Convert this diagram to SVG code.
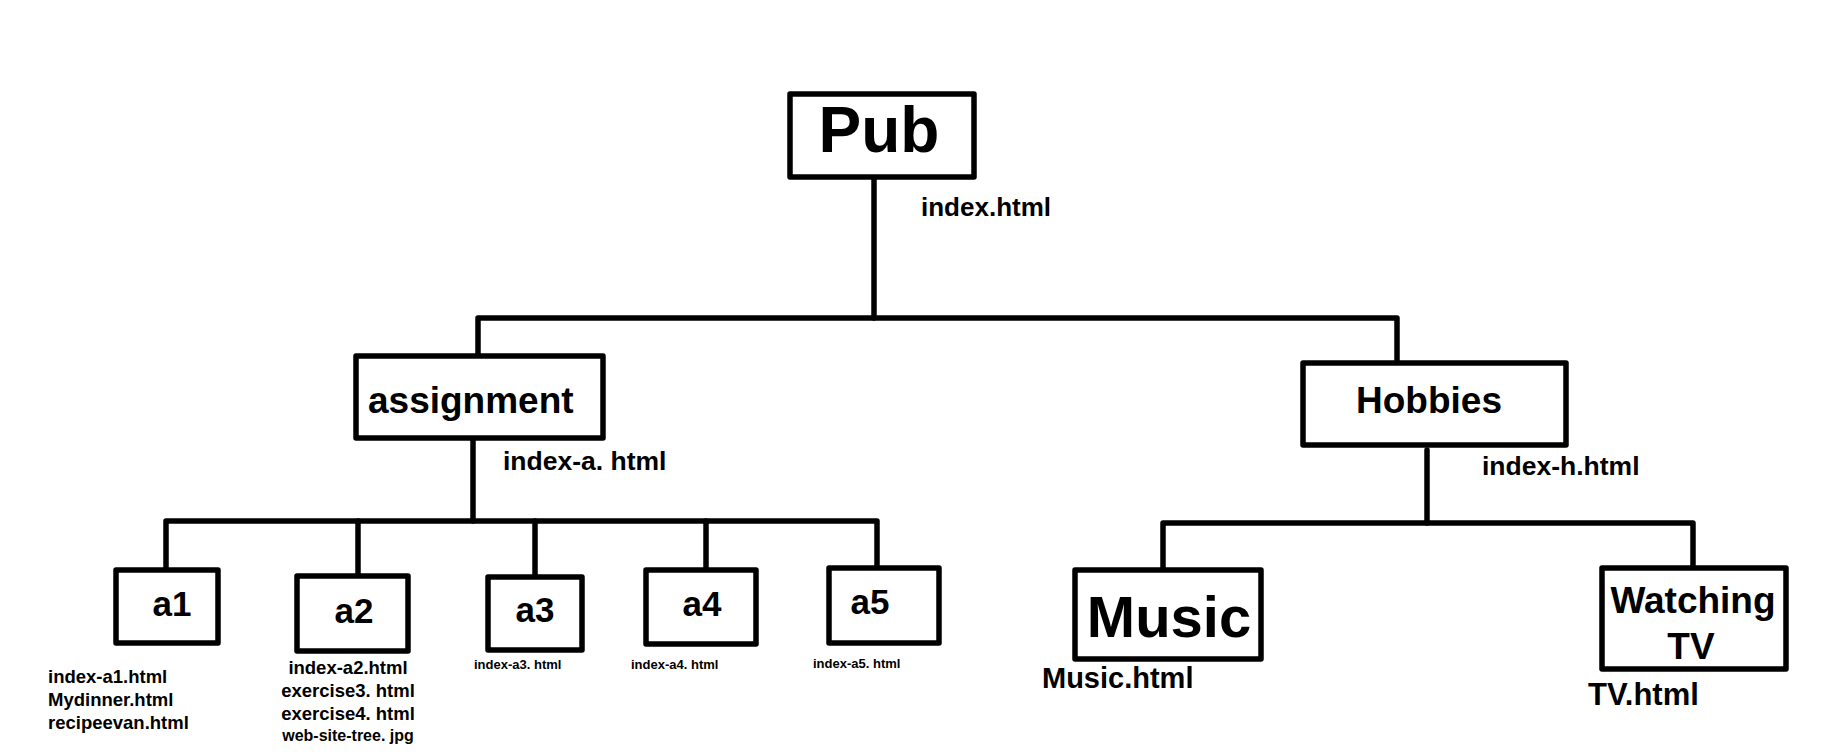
<svg xmlns="http://www.w3.org/2000/svg" width="1831" height="754" viewBox="0 0 1831 754">
<style>
.box{fill:#fff;stroke:#000;stroke-width:5.5;stroke-linejoin:round}
.ln{fill:none;stroke:#000;stroke-width:5.5;stroke-linecap:round;stroke-linejoin:round}
text{font-family:"Liberation Sans",Arial,Helvetica,sans-serif;font-weight:bold;fill:#000}
.mid{text-anchor:middle}
</style>
<rect width="1831" height="754" fill="#fff"/>
<g id="connectors">
<path class="ln" d="M874 177 V318"/>
<path class="ln" d="M478 356 V318 H1397 V363"/>
<path class="ln" d="M473 438 V521"/>
<path class="ln" d="M166 570 V521 H877 V568"/>
<path class="ln" d="M358 521 V576"/>
<path class="ln" d="M535 521 V577"/>
<path class="ln" d="M706 521 V570"/>
<path class="ln" d="M1427 450 V523"/>
<path class="ln" d="M1163 570 V523 H1693 V568"/>
</g>
<g id="pub">
<rect class="box" x="790" y="94" width="184" height="83"/>
<text class="mid" x="879" y="152" font-size="64">Pub</text>
<text x="921" y="216" font-size="26">index.html</text>
</g>
<g id="assignment">
<rect class="box" x="356" y="356" width="247" height="82"/>
<text x="368" y="413" font-size="37">assignment</text>
<text x="503" y="470" font-size="26.5">index-a. html</text>
</g>
<g id="hobbies">
<rect class="box" x="1303" y="363" width="263" height="82"/>
<text x="1356" y="413" font-size="37">Hobbies</text>
<text x="1482" y="475" font-size="26.5">index-h.html</text>
</g>
<g id="a1">
<rect class="box" x="116" y="570" width="102" height="73"/>
<text class="mid" x="172" y="616" font-size="35">a1</text>
<text x="48" y="683" font-size="18.5">index-a1.html</text>
<text x="48" y="706" font-size="18.5">Mydinner.html</text>
<text x="48" y="729" font-size="18.5">recipeevan.html</text>
</g>
<g id="a2">
<rect class="box" x="297" y="576" width="111" height="75"/>
<text class="mid" x="354" y="623" font-size="35">a2</text>
<text class="mid" x="348" y="674" font-size="18.5">index-a2.html</text>
<text class="mid" x="348" y="697" font-size="18.5">exercise3. html</text>
<text class="mid" x="348" y="720" font-size="18.5">exercise4. html</text>
<text class="mid" x="348" y="741" font-size="16">web-site-tree. jpg</text>
</g>
<g id="a3">
<rect class="box" x="488" y="577" width="94" height="73"/>
<text class="mid" x="535" y="622" font-size="35">a3</text>
<text x="474" y="669" font-size="13">index-a3. html</text>
</g>
<g id="a4">
<rect class="box" x="646" y="570" width="110" height="74"/>
<text class="mid" x="702" y="616" font-size="35">a4</text>
<text x="631" y="669" font-size="13">index-a4. html</text>
</g>
<g id="a5">
<rect class="box" x="829" y="568" width="110" height="75"/>
<text class="mid" x="870" y="614" font-size="35">a5</text>
<text x="813" y="668" font-size="13">index-a5. html</text>
</g>
<g id="music">
<rect class="box" x="1075" y="570" width="186" height="89"/>
<text class="mid" x="1169" y="637" font-size="58">Music</text>
<text x="1042" y="688" font-size="29">Music.html</text>
</g>
<g id="tv">
<rect class="box" x="1602" y="568" width="184" height="101"/>
<text class="mid" x="1693" y="613" font-size="37">Watching</text>
<text class="mid" x="1691" y="659" font-size="37">TV</text>
<text x="1588" y="705" font-size="31">TV.html</text>
</g>
</svg>
